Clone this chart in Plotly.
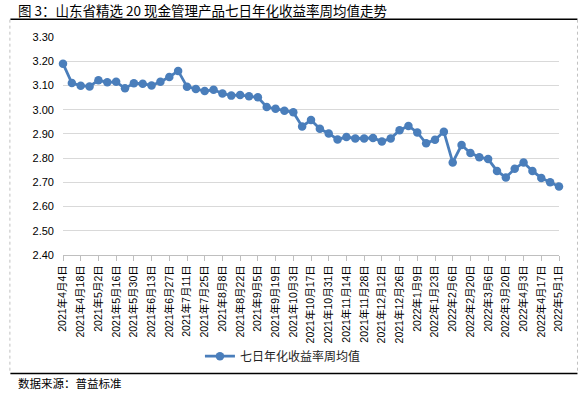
import plotly.graph_objects as go

dates = [
    "2021年4月4日", "2021年4月11日", "2021年4月18日", "2021年4月25日", "2021年5月2日", "2021年5月9日",
    "2021年5月16日", "2021年5月23日", "2021年5月30日", "2021年6月6日", "2021年6月13日", "2021年6月20日",
    "2021年6月27日", "2021年7月4日", "2021年7月11日", "2021年7月18日", "2021年7月25日", "2021年8月1日",
    "2021年8月8日", "2021年8月15日", "2021年8月22日", "2021年8月29日", "2021年9月5日", "2021年9月12日",
    "2021年9月19日", "2021年9月26日", "2021年10月3日", "2021年10月10日", "2021年10月17日", "2021年10月24日",
    "2021年10月31日", "2021年11月7日", "2021年11月14日", "2021年11月21日", "2021年11月28日", "2021年12月5日",
    "2021年12月12日", "2021年12月19日", "2021年12月26日", "2022年1月2日", "2022年1月9日", "2022年1月16日",
    "2022年1月23日", "2022年1月30日", "2022年2月6日", "2022年2月13日", "2022年2月20日", "2022年2月27日",
    "2022年3月6日", "2022年3月13日", "2022年3月20日", "2022年3月27日", "2022年4月3日", "2022年4月10日",
    "2022年4月17日", "2022年4月24日", "2022年5月1日",
]

values = [
    3.190, 3.110, 3.099, 3.096, 3.121, 3.113, 3.115, 3.088, 3.109, 3.107,
    3.100, 3.115, 3.135, 3.160, 3.095, 3.085, 3.077, 3.082, 3.067, 3.058,
    3.061, 3.055, 3.051, 3.011, 3.004, 2.996, 2.989, 2.931, 2.957, 2.921,
    2.902, 2.877, 2.887, 2.881, 2.881, 2.883, 2.869, 2.881, 2.915, 2.933,
    2.906, 2.861, 2.876, 2.909, 2.782, 2.854, 2.821, 2.804, 2.796, 2.747,
    2.720, 2.756, 2.782, 2.747, 2.718, 2.700, 2.683,
]

y_ticks = [2.40, 2.50, 2.60, 2.70, 2.80, 2.90, 3.00, 3.10, 3.20, 3.30]
series_name = "七日年化收益率周均值"
title_text = "图 3：山东省精选 20 现金管理产品七日年化收益率周均值走势"
source_text = "数据来源：普益标准"

idx = list(range(len(values)))
tick_idx = idx[::2]
tick_text = [dates[i] for i in tick_idx]

FONT = "Liberation Sans, Arial, Noto Sans CJK SC"
CJK = "Noto Sans CJK SC, sans-serif"

fig = go.Figure()
fig.add_trace(go.Scatter(
    x=idx, y=values, mode="lines+markers", name=series_name,
    line=dict(color="#4a7ebb", width=2.8),
    marker=dict(color="#4a7ebb", size=8.5),
    cliponaxis=False,
))

L, R, T, B = 62.7, 27.5, 37.3, 139
W, H = 587, 394
pw = W - L - R
ph = H - T - B


def px_x(x):
    return (x - L) / pw


def px_y(y):
    return (H - B - y) / ph


fig.update_layout(
    width=W, height=H,
    margin=dict(l=L, r=R, t=T, b=B, pad=0),
    paper_bgcolor="white", plot_bgcolor="white",
    font=dict(family=FONT, size=11, color="#000000"),
    showlegend=True,
    legend=dict(
        orientation="h", x=px_x(283), xanchor="center",
        y=px_y(356), yanchor="middle",
        font=dict(family=CJK, size=12, color="#222222"),
        itemwidth=30, bgcolor="rgba(0,0,0,0)",
    ),
    xaxis=dict(
        range=[0, 56], tickmode="array", tickvals=tick_idx, ticktext=tick_text,
        tickangle=-90, ticks="outside", ticklen=5, tickcolor="#bfbfbf",
        showline=True, linecolor="#bfbfbf", linewidth=1,
        showgrid=False, zeroline=False,
        tickfont=dict(family=FONT, size=10.5, color="#000000"),
    ),
    yaxis=dict(
        range=[2.40, 3.30], tickmode="array", tickvals=y_ticks,
        ticktext=[f"{v:.2f}" for v in y_ticks],
        showgrid=True, gridcolor="#d9d9d9", gridwidth=1,
        zeroline=False, showline=False, ticks="",
        ticklabelstandoff=8,
        tickfont=dict(family=FONT, size=11, color="#000000"),
    ),
    shapes=[
        dict(type="line", xref="paper", yref="paper",
             x0=px_x(10), x1=px_x(578), y0=px_y(19.5), y1=px_y(19.5),
             line=dict(color="black", width=1.5)),
        dict(type="line", xref="paper", yref="paper",
             x0=px_x(10), x1=px_x(578), y0=px_y(373.3), y1=px_y(373.3),
             line=dict(color="black", width=1.5)),
        dict(type="line", xref="paper", yref="paper",
             x0=px_x(9.5), x1=px_x(9.5), y0=px_y(20), y1=px_y(373),
             line=dict(color="#c0c0c0", width=1, dash="dot")),
        dict(type="line", xref="paper", yref="paper",
             x0=px_x(578), x1=px_x(578), y0=px_y(20), y1=px_y(373),
             line=dict(color="#c0c0c0", width=1, dash="dot")),
    ],
    annotations=[
        dict(text=title_text, xref="paper", yref="paper",
             x=px_x(16), y=px_y(10.5), xanchor="left", yanchor="middle",
             showarrow=False, font=dict(family=CJK, size=13.5, color="#000000")),
        dict(text=source_text, xref="paper", yref="paper",
             x=px_x(16), y=px_y(383), xanchor="left", yanchor="middle",
             showarrow=False, font=dict(family=CJK, size=11.5, color="#000000")),
    ],
)

fig.write_html(
    "out.html",
    config={"displayModeBar": False},
    post_script="document.body.style.margin='0';document.body.style.overflow='hidden';",
)
